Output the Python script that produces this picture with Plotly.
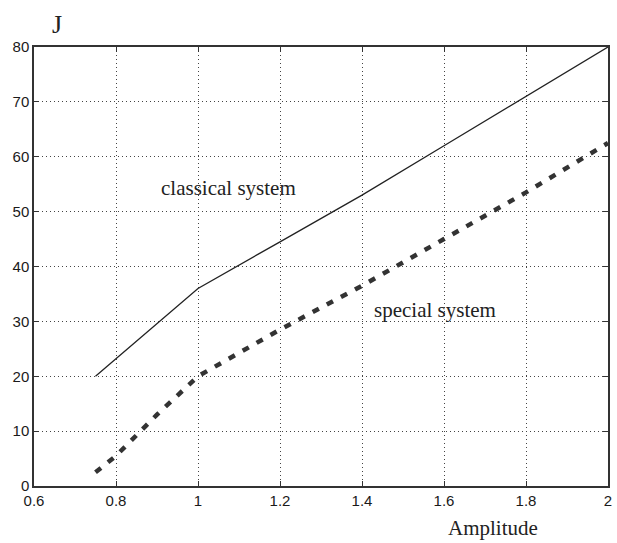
import plotly.graph_objects as go

classical_x = [0.75, 1.0, 1.2, 1.4, 1.6, 1.8, 2.0]
classical_y = [20, 36, 44.5, 53, 62, 71, 80]
special_x = [0.75, 0.8, 0.9, 1.0, 1.2, 1.4, 1.6, 1.8, 2.0]
special_y = [2.5, 5.5, 13, 20, 28.5, 36.5, 45, 53.5, 62.5]
x_ticks = [0.6, 0.8, 1.0, 1.2, 1.4, 1.6, 1.8, 2.0]
x_labels = ["0.6", "0.8", "1", "1.2", "1.4", "1.6", "1.8", "2"]
y_ticks = [0, 10, 20, 30, 40, 50, 60, 70, 80]

fig = go.Figure()
fig.add_trace(go.Scatter(x=classical_x, y=classical_y, mode="lines",
                         line=dict(color="#222", width=1.3), showlegend=False))
fig.add_trace(go.Scatter(x=special_x, y=special_y, mode="lines",
                         line=dict(color="#333", width=4.5, dash="7px,9px"), showlegend=False))

axis_common = dict(showline=True, linecolor="#333", linewidth=1.5, mirror="ticks",
                   ticks="inside", ticklen=5, tickcolor="#333",
                   showgrid=True, gridcolor="#444", gridwidth=1, griddash="1px,3px",
                   zeroline=False,
                   tickfont=dict(family="Liberation Sans, Arial", size=15, color="#1a1a1a"))

fig.update_xaxes(range=[0.6, 2.0], tickvals=x_ticks, ticktext=x_labels, **axis_common)
fig.update_yaxes(range=[0, 80], tickvals=y_ticks, **axis_common)

serif = "Liberation Serif, Times New Roman"
fig.add_annotation(x=0.339, y=0.679, xref="paper", yref="paper", text="classical system",
                   showarrow=False, xanchor="center", yanchor="middle",
                   font=dict(family=serif, size=21, color="#222"))
fig.add_annotation(x=0.699, y=0.40, xref="paper", yref="paper", text="special system",
                   showarrow=False, xanchor="center", yanchor="middle",
                   font=dict(family=serif, size=21, color="#222"))
fig.add_annotation(x=0.040, y=1.052, xref="paper", yref="paper", text="J", showarrow=False,
                   xanchor="center", yanchor="middle", font=dict(family=serif, size=26, color="#222"))
fig.add_annotation(x=0.799, y=-0.0957, xref="paper", yref="paper", text="Amplitude", showarrow=False,
                   xanchor="center", yanchor="middle", font=dict(family=serif, size=21, color="#222"))

fig.update_layout(width=617, height=543, margin=dict(l=34, r=5, t=47, b=57),
                  plot_bgcolor="white", paper_bgcolor="white")
fig.write_html("out.html")
